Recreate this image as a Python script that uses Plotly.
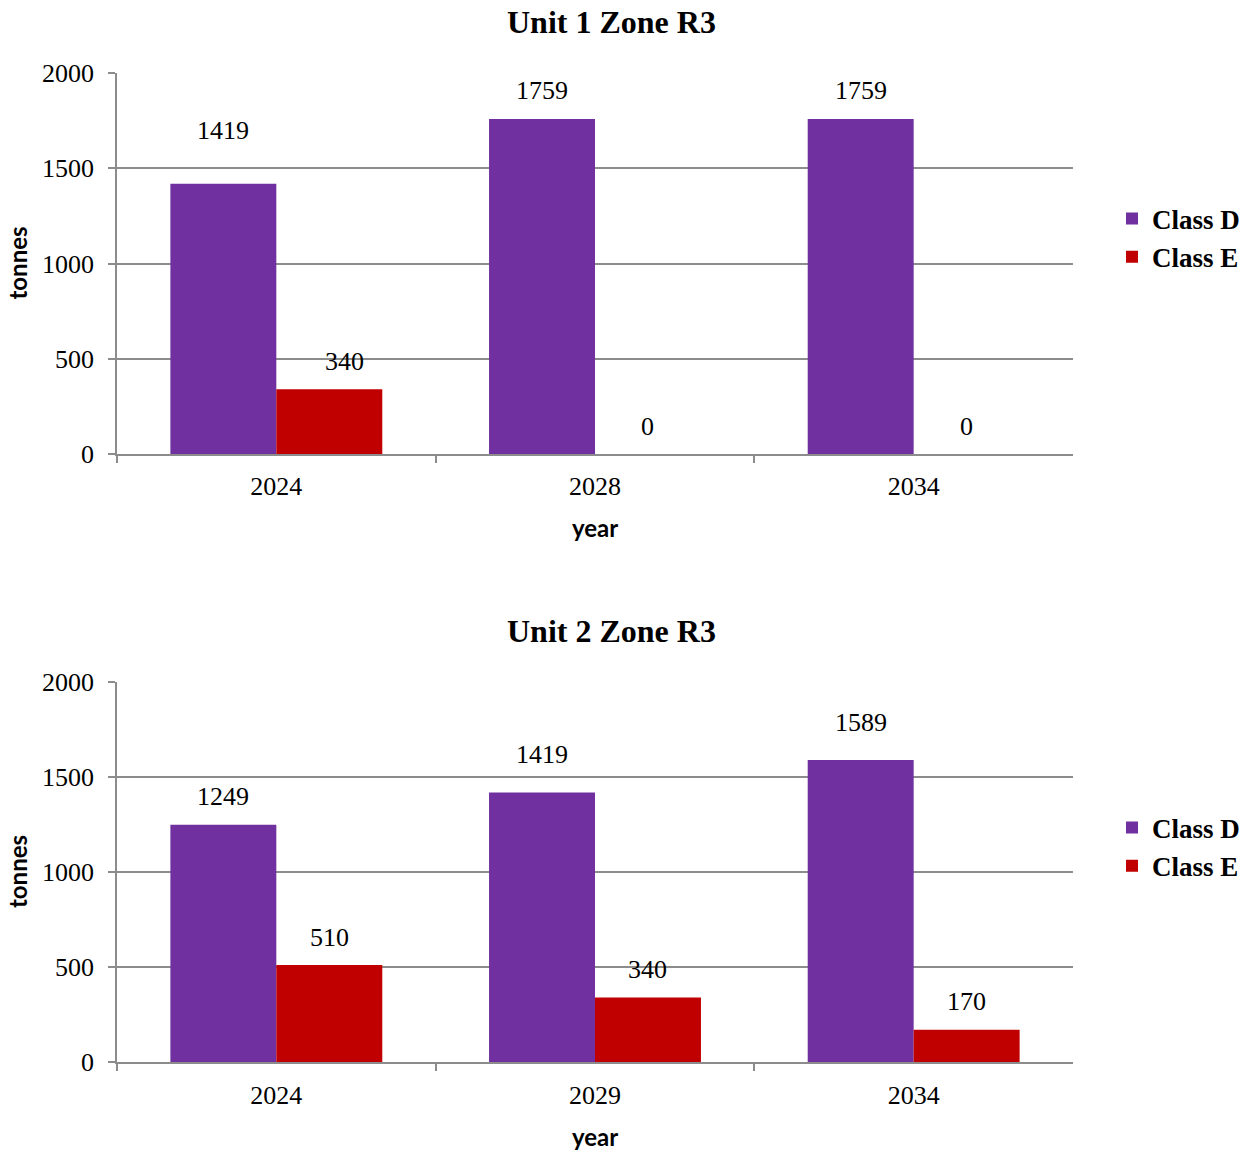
import plotly.graph_objects as go

# Data
years_u1 = ["2024", "2028", "2034"]
class_d_u1 = [1419, 1759, 1759]
class_e_u1 = [340, 0, 0]

years_u2 = ["2024", "2029", "2034"]
class_d_u2 = [1249, 1419, 1589]
class_e_u2 = [510, 340, 170]

titles = ["Unit 1 Zone R3", "Unit 2 Zone R3"]
series_names = ["Class D", "Class E"]
colors = ["#7030A0", "#C00000"]

W, H = 1253, 1150
SERIF = "Liberation Serif, Times New Roman, serif"
SANS = "Lato, Open Sans, sans-serif"
GRID = "#8c8c8c"

# label placement tweaks (panel, series, index) -> (xshift, extra yshift), pixels
label_tweaks = {(0, 0, 0): (0, 25), (0, 1, 0): (15, 0), (1, 0, 1): (0, 10), (1, 0, 2): (0, 10)}

fig = go.Figure()

panels = [
    (years_u1, [class_d_u1, class_e_u1], "x", "y", "legend"),
    (years_u2, [class_d_u2, class_e_u2], "x2", "y2", "legend2"),
]

for cats, vals, xa, ya, lg in panels:
    for name, v, c in zip(series_names, vals, colors):
        fig.add_trace(go.Bar(x=cats, y=v, name=name, marker=dict(color=c, line=dict(width=0)),
                             xaxis=xa, yaxis=ya, legend=lg))

# data labels
bar_off = 0.166
for pi, (cats, vals, xa, ya, lg) in enumerate(panels):
    for si, v in enumerate(vals):
        for i, val in enumerate(v):
            dx, dy = label_tweaks.get((pi, si, i), (0, 0))
            fig.add_annotation(x=i + (-bar_off if si == 0 else bar_off), y=val,
                               xref=xa, yref=ya, text=str(val), showarrow=False,
                               yshift=28 + dy, xshift=dx, yanchor="middle",
                               font=dict(family=SERIF, size=26, color="black"))

# plot area pixel bounds
x0, x1 = 117, 1073
panel_y = [(73, 454), (682, 1062)]

def py(p):
    return 1 - p / H

axis_common = dict(showline=True, linecolor=GRID, linewidth=1.5, ticks="outside",
                   ticklen=7, tickcolor=GRID, tickwidth=1.5, automargin=False,
                   tickfont=dict(family=SERIF, size=26, color="black"))

fig.update_layout(
    xaxis=dict(domain=[x0 / W, x1 / W], anchor="y", type="category", tickson="boundaries",
               ticklabelstandoff=8, **axis_common),
    yaxis=dict(domain=[py(panel_y[0][1]), py(panel_y[0][0])], anchor="x", range=[0, 2000],
               dtick=500, showgrid=True, gridcolor=GRID, gridwidth=1.5, zeroline=False,
               ticklabelstandoff=9, **axis_common),
    xaxis2=dict(domain=[x0 / W, x1 / W], anchor="y2", type="category", tickson="boundaries",
                ticklabelstandoff=9, **axis_common),
    yaxis2=dict(domain=[py(panel_y[1][1]), py(panel_y[1][0])], anchor="x2", range=[0, 2000],
                dtick=500, showgrid=True, gridcolor=GRID, gridwidth=1.5, zeroline=False,
                ticklabelstandoff=9, **axis_common),
    barmode="group", bargap=0.335, bargroupgap=0,
    width=W, height=H, margin=dict(l=0, r=0, t=0, b=0, pad=0, autoexpand=False),
    plot_bgcolor="white", paper_bgcolor="white",
    legend=dict(x=1112 / W, y=py(238), xanchor="left", yanchor="middle",
                font=dict(family=SERIF, size=27, color="black", weight="bold"),
                tracegroupgap=0, itemwidth=30, bgcolor="rgba(0,0,0,0)"),
    legend2=dict(x=1112 / W, y=py(847), xanchor="left", yanchor="middle",
                 font=dict(family=SERIF, size=27, color="black", weight="bold"),
                 tracegroupgap=0, itemwidth=30, bgcolor="rgba(0,0,0,0)"),
)

# titles and axis titles
title_y = [22, 631]
year_y = [527, 1136]
for k in range(2):
    fig.add_annotation(x=611 / W, y=py(title_y[k]), xref="paper", yref="paper",
                       text="<b>%s</b>" % titles[k], showarrow=False,
                       xanchor="center", yanchor="middle",
                       font=dict(family=SERIF, size=32, color="black"))
    fig.add_annotation(x=(x0 + x1) / 2 / W, y=py(year_y[k]), xref="paper", yref="paper",
                       text="<b>year</b>", showarrow=False, xanchor="center", yanchor="middle",
                       font=dict(family=SANS, size=24, color="black"))
    fig.add_annotation(x=17 / W, y=py((panel_y[k][0] + panel_y[k][1]) / 2), xref="paper",
                       yref="paper", text="<b>tonnes</b>", showarrow=False, textangle=-90,
                       xanchor="center", yanchor="middle",
                       font=dict(family=SANS, size=24, color="black"))

fig.write_html("out.html")
